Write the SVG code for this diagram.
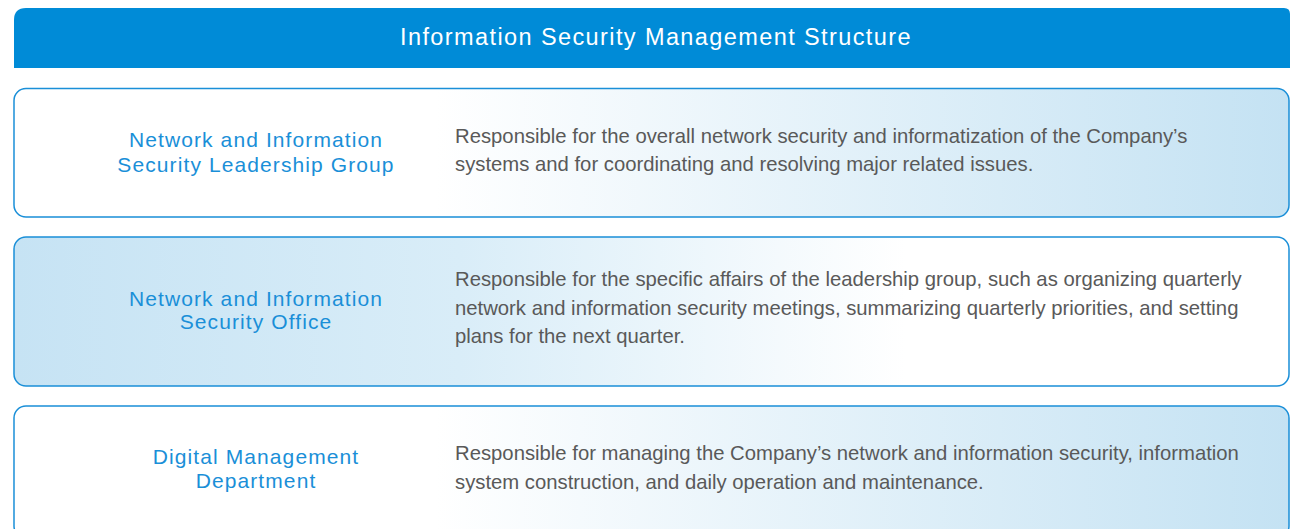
<svg xmlns="http://www.w3.org/2000/svg" width="1290" height="529" viewBox="0 0 1290 529">
  <defs>
    <!-- white on the left, fading to pale blue on the right -->
    <linearGradient id="fadeRight" x1="0" y1="0" x2="1" y2="0">
      <stop offset="0" stop-color="#ffffff"/>
      <stop offset="0.33" stop-color="#ffffff"/>
      <stop offset="1" stop-color="#c4e2f3"/>
    </linearGradient>
    <!-- pale blue on the left, fading to white on the right -->
    <linearGradient id="fadeLeft" x1="0" y1="0" x2="1" y2="0">
      <stop offset="0" stop-color="#c6e3f4"/>
      <stop offset="0.35" stop-color="#d9edf8"/>
      <stop offset="0.7" stop-color="#ffffff"/>
      <stop offset="1" stop-color="#ffffff"/>
    </linearGradient>
    <style>
      .card { stroke: #1a8fd8; stroke-width: 1.5; }
      .label { font-family: "Liberation Sans", Arial, sans-serif; font-size: 21px; fill: #1a8fd8; text-anchor: middle; letter-spacing: 1.1px; }
      .desc { font-family: "Liberation Sans", Arial, sans-serif; font-size: 20.3px; fill: #595959; }
      .title { font-family: "Liberation Sans", Arial, sans-serif; font-size: 23.5px; fill: #ffffff; text-anchor: middle; letter-spacing: 1.4px; }
    </style>
  </defs>

  <rect width="1290" height="529" fill="#ffffff"/>

  <!-- title bar -->
  <g id="header">
    <path d="M14,68 V20 Q14,8 26,8 H1284 Q1290,8 1290,14 V68 Z" fill="#008bd7"/>
    <text class="title" x="656" y="45">Information Security Management Structure</text>
  </g>

  <!-- leadership group -->
  <g id="leadership-group">
    <rect class="card" x="14" y="88.5" width="1275" height="128.5" rx="12" ry="12" fill="url(#fadeRight)"/>
    <text class="label" x="256" y="147">Network and Information</text>
    <text class="label" x="256" y="171.5">Security Leadership Group</text>
    <text class="desc" x="455" y="142.5">Responsible for the overall network security and informatization of the Company’s</text>
    <text class="desc" x="455" y="171">systems and for coordinating and resolving major related issues.</text>
  </g>

  <!-- security office -->
  <g id="security-office">
    <rect class="card" x="14" y="237" width="1275" height="149" rx="12" ry="12" fill="url(#fadeLeft)"/>
    <text class="label" x="256" y="305.5">Network and Information</text>
    <text class="label" x="256" y="329">Security Office</text>
    <text class="desc" x="455" y="286">Responsible for the specific affairs of the leadership group, such as organizing quarterly</text>
    <text class="desc" x="455" y="314.5">network and information security meetings, summarizing quarterly priorities, and setting</text>
    <text class="desc" x="455" y="343">plans for the next quarter.</text>
  </g>

  <!-- digital management department -->
  <g id="digital-management">
    <rect class="card" x="14" y="406" width="1275" height="132" rx="12" ry="12" fill="url(#fadeRight)"/>
    <text class="label" x="256" y="463.5">Digital Management</text>
    <text class="label" x="256" y="487.5">Department</text>
    <text class="desc" x="455" y="460">Responsible for managing the Company’s network and information security, information</text>
    <text class="desc" x="455" y="488.5">system construction, and daily operation and maintenance.</text>
  </g>

  <!-- no connectors in this layout -->
  <g id="connectors"/>
</svg>
